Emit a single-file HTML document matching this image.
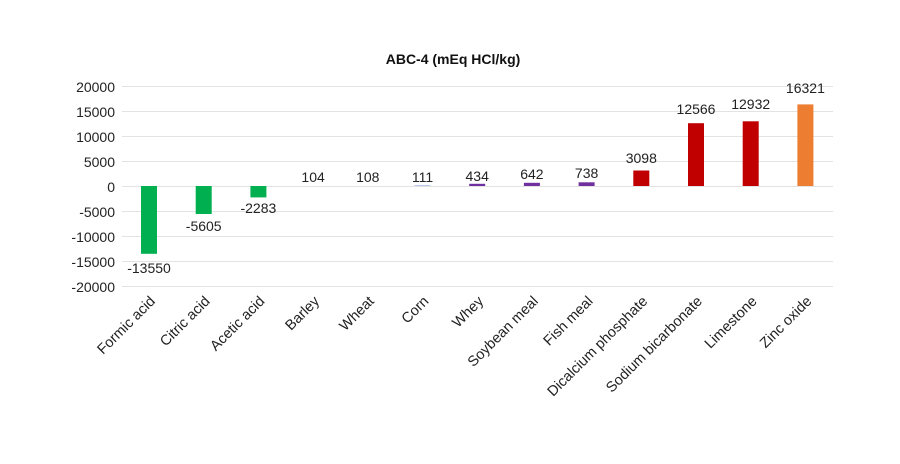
<!DOCTYPE html>
<html><head><meta charset="utf-8"><style>
html,body{margin:0;padding:0;background:#fff;}
svg{display:block;font-family:"Liberation Sans",Arial,sans-serif;}
</style></head><body>
<svg width="900" height="464" viewBox="0 0 900 464" xmlns="http://www.w3.org/2000/svg">
<rect width="900" height="464" fill="#fff"/>
<text x="453" y="64" text-anchor="middle" font-size="14" font-weight="bold" fill="#111">ABC-4 (mEq HCl/kg)</text>
<g stroke="#e3e3e3" stroke-width="1">
<line x1="122" x2="833" y1="86.5" y2="86.5"/><line x1="122" x2="833" y1="111.5" y2="111.5"/>
<line x1="122" x2="833" y1="136.5" y2="136.5"/><line x1="122" x2="833" y1="161.5" y2="161.5"/>
<line x1="122" x2="833" y1="186.5" y2="186.5"/><line x1="122" x2="833" y1="211.5" y2="211.5"/>
<line x1="122" x2="833" y1="236.5" y2="236.5"/><line x1="122" x2="833" y1="261.5" y2="261.5"/>
<line x1="122" x2="833" y1="286.5" y2="286.5"/>
</g>
<g font-size="14" fill="#222" text-anchor="end">
<text x="115" y="92">20000</text><text x="115" y="117">15000</text><text x="115" y="142">10000</text>
<text x="115" y="167">5000</text><text x="115" y="192">0</text><text x="115" y="217">-5000</text>
<text x="115" y="242">-10000</text><text x="115" y="267">-15000</text><text x="115" y="292">-20000</text>
</g>
<g>
<rect x="141" y="186" width="16" height="67.8" fill="#00b050"/>
<rect x="195.7" y="186" width="16" height="28" fill="#00b050"/>
<rect x="250.4" y="186" width="16" height="11.4" fill="#00b050"/>
<rect x="414.5" y="185.4" width="16" height="0.6" fill="#8aa6d8"/>
<rect x="469.2" y="183.8" width="16" height="2.2" fill="#7030a0"/>
<rect x="523.9" y="182.8" width="16" height="3.2" fill="#7030a0"/>
<rect x="578.6" y="182.3" width="16" height="3.7" fill="#7030a0"/>
<rect x="633.3" y="170.5" width="16" height="15.5" fill="#c00000"/>
<rect x="688" y="123.2" width="16" height="62.8" fill="#c00000"/>
<rect x="742.7" y="121.3" width="16" height="64.7" fill="#c00000"/>
<rect x="797.4" y="104.4" width="16" height="81.6" fill="#ed7d31"/>
</g>
<g font-size="14" fill="#222" text-anchor="middle">
<text x="149" y="273">-13550</text><text x="203.7" y="231">-5605</text><text x="258.4" y="213">-2283</text>
<text x="313.1" y="182">104</text><text x="367.8" y="182">108</text><text x="422.5" y="182">111</text>
<text x="477.2" y="181">434</text><text x="531.9" y="179">642</text><text x="586.6" y="178">738</text>
<text x="641.3" y="163">3098</text><text x="696" y="114">12566</text><text x="750.7" y="109">12932</text>
<text x="805.4" y="93">16321</text>
</g>
<g font-size="14.5" fill="#222" text-anchor="end">
<text transform="translate(156,302) rotate(-45)">Formic acid</text>
<text transform="translate(210.7,302) rotate(-45)">Citric acid</text>
<text transform="translate(265.4,302) rotate(-45)">Acetic acid</text>
<text transform="translate(320.1,302) rotate(-45)">Barley</text>
<text transform="translate(374.8,302) rotate(-45)">Wheat</text>
<text transform="translate(429.5,302) rotate(-45)">Corn</text>
<text transform="translate(484.2,302) rotate(-45)">Whey</text>
<text transform="translate(538.9,302) rotate(-45)">Soybean meal</text>
<text transform="translate(593.6,302) rotate(-45)">Fish meal</text>
<text transform="translate(648.3,302) rotate(-45)">Dicalcium phosphate</text>
<text transform="translate(703,302) rotate(-45)">Sodium bicarbonate</text>
<text transform="translate(757.7,302) rotate(-45)">Limestone</text>
<text transform="translate(812.4,302) rotate(-45)">Zinc oxide</text>
</g>
</svg>
</body></html>
